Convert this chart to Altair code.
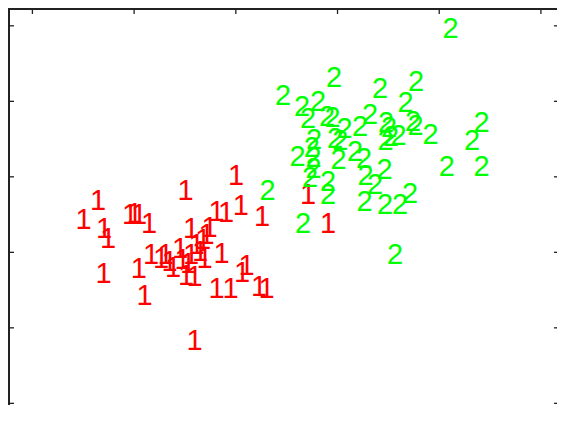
import altair as alt
import pandas as pd

# class "1" points (tick units)
class1_x = [0.503, 0.645, 0.704, 0.743, 0.960, 1.004, 1.048, 1.147, 1.505, 2.002,
            1.810, 1.904, 2.048, 2.258, 2.710, 2.907, 1.559, 1.741, 1.712, 0.699,
            1.045, 1.102, 1.595, 1.166, 1.264, 1.309, 1.348, 1.451, 1.476, 1.510,
            1.595, 1.559, 1.614, 1.648, 1.692, 1.677, 1.859, 1.810, 1.948, 2.061,
            2.105, 2.228, 2.302, 1.530, 1.383]
class1_y = [2.450, 2.706, 2.335, 2.203, 2.521, 2.534, 2.521, 2.401, 2.845, 3.044,
            2.567, 2.554, 2.646, 2.494, 2.785, 2.401, 2.335, 2.348, 2.256, 1.746,
            1.805, 1.454, 0.858, 1.991, 1.944, 1.991, 1.898, 2.070, 1.925, 1.713,
            1.699, 1.991, 2.123, 2.030, 1.938, 2.189, 2.004, 1.547, 1.547, 1.752,
            1.845, 1.567, 1.547, 1.872, 1.819]

# class "2" points (tick units)
class2_x = [4.111, 2.966, 3.418, 3.772, 2.464, 2.651, 2.808, 2.710, 2.897, 2.951,
            3.069, 3.221, 3.320, 3.669, 3.477, 3.506, 3.742, 3.767, 3.914, 3.472,
            3.526, 3.600, 4.416, 4.323, 4.074, 4.416, 2.769, 2.746, 2.975, 3.028,
            2.607, 2.764, 2.764, 3.010, 3.172, 3.261, 2.730, 2.907, 2.907, 3.275,
            3.369, 3.462, 3.266, 3.467, 3.615, 3.713, 2.312, 2.661, 3.565]
class2_y = [4.988, 4.335, 4.189, 4.282, 4.097, 3.951, 4.017, 3.792, 3.819, 3.805,
            3.664, 3.686, 3.841, 4.004, 3.746, 3.673, 3.752, 3.699, 3.587, 3.501,
            3.554, 3.567, 3.739, 3.501, 3.156, 3.156, 3.510, 3.408, 3.521, 3.501,
            3.289, 3.276, 3.134, 3.245, 3.355, 3.256, 3.011, 2.958, 2.781, 3.037,
            2.914, 3.113, 2.693, 2.649, 2.649, 2.803, 2.838, 2.401, 1.991]

labels = ["1", "2"]
label_colors = ["#ff0000", "#00ff00"]
tick_values = [0, 1, 2, 3, 4, 5]
x_domain = [-0.24, 5.158]
y_domain = [-0.022, 5.236]

W, H = 549, 397
FRAME = "#222222"

pts = pd.DataFrame({
    "x": class1_x + class2_x,
    "y": class1_y + class2_y,
    "label": ["1"] * len(class1_x) + ["2"] * len(class2_x),
})
ticks = pd.DataFrame({"t": tick_values})

xs = alt.Scale(domain=x_domain, nice=False, zero=False)
ys = alt.Scale(domain=y_domain, nice=False, zero=False)

text = alt.Chart(pts).mark_text(
    font="Liberation Sans", fontSize=29, align="center", baseline="middle", dy=2
).encode(
    x=alt.X("x:Q", scale=xs, axis=None),
    y=alt.Y("y:Q", scale=ys, axis=None),
    text="label:N",
    color=alt.Color("label:N", scale=alt.Scale(domain=labels, range=label_colors), legend=None),
)

tick_base = alt.Chart(ticks).mark_rule(color=FRAME, strokeWidth=1.3)
top_ticks = tick_base.encode(x=alt.X("t:Q", scale=xs, axis=None), y=alt.value(0), y2=alt.value(6))
left_ticks = tick_base.encode(y=alt.Y("t:Q", scale=ys, axis=None), x=alt.value(0), x2=alt.value(6))
right_ticks = tick_base.encode(y=alt.Y("t:Q", scale=ys, axis=None), x=alt.value(W - 3), x2=alt.value(W))

frame_left = alt.Chart(ticks).mark_rule(color=FRAME, strokeWidth=1.8).encode(
    x=alt.value(0.9), y=alt.value(0), y2=alt.value(H)
)
frame_top = alt.Chart(ticks).mark_rule(color=FRAME, strokeWidth=1.8).encode(
    y=alt.value(0.9), x=alt.value(0), x2=alt.value(W)
)

chart = alt.layer(
    text, top_ticks, left_ticks, right_ticks, frame_left, frame_top
).properties(
    width=W, height=H, padding=0, autosize=alt.AutoSizeParams(type="none")
).configure_view(strokeWidth=0)

chart.save("out.html", embed_options={"renderer": "svg", "actions": False})
